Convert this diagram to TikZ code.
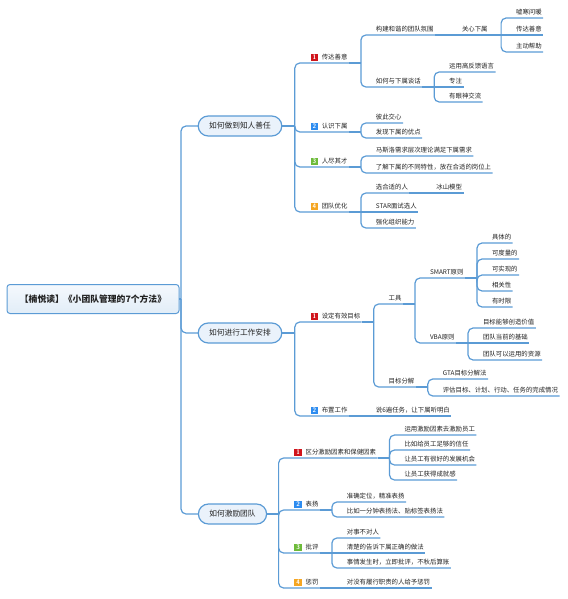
\documentclass[tikz,border=0pt]{standalone}
\usepackage{fontspec}
\newfontfamily\cjk{Noto Sans CJK SC}
\definecolor{ln}{HTML}{5B9BD5}
\definecolor{bred}{HTML}{D0141B}
\definecolor{bblue}{HTML}{2D8CF0}
\definecolor{bgreen}{HTML}{6DBB3A}
\definecolor{borange}{HTML}{F5A623}
\definecolor{nfill}{HTML}{EAF2FB}
\definecolor{txc}{HTML}{222222}
\begin{document}
\begin{tikzpicture}[x=1pt,y=-1pt,
  conn/.style={draw=ln, line width=1.2pt, rounded corners=5pt},
  txt/.style={font=\cjk\fontsize{6.4}{7}\selectfont, text=txc, inner xsep=1.5pt, inner ysep=0pt, text height=5.6pt, text depth=3.3pt, anchor=south west, outer sep=0pt},
  ctxt/.style={txt, xshift=13.5pt},
  btxt/.style={txt, xshift=25.5pt},
  topic/.style={font=\cjk\fontsize{7.7}{9}\selectfont, text=txc, draw=ln, line width=1.2pt, fill=nfill, rounded corners=10pt, minimum height=20pt, inner xsep=11pt, inner ysep=0pt, outer sep=0pt},
  rootbox/.style={font=\cjk\bfseries\fontsize{8.8}{10}\selectfont, text=txc, draw=ln, line width=1pt, top color=white!50!nfill, bottom color=ln!18, rounded corners=3pt, minimum width=172pt, minimum height=29pt, inner sep=0pt, outer sep=0pt},
  badge/.style={minimum size=7.5pt, inner sep=0pt, text=white, font=\sffamily\bfseries\fontsize{6.5}{6.5}\selectfont, outer sep=0pt, xshift=19.5pt}
]
\useasboundingbox (0,0) rectangle (567,599);

% root
\node[rootbox] (root) at (93,299) {【楠悦读】《小团队管理的7个方法》};
\coordinate (s0) at ([xshift=2pt]root.east);

% ---------------- Branch A
\node[topic] (tA) at (240,126) {如何做到知人善任};
\coordinate (sA) at ([xshift=13pt]tA.east);
\node[badge,fill=bred] (bA1) at (sA |- 0,57.5) {1};
\node[btxt] (A1) at (sA |- 0,63) {传达善意};
\node[badge,fill=bblue] (bA2) at (sA |- 0,126.5) {2};
\node[btxt] (A2) at (sA |- 0,132) {认识下属};
\node[badge,fill=bgreen] (bA3) at (sA |- 0,161.5) {3};
\node[btxt] (A3) at (sA |- 0,167) {人尽其才};
\node[badge,fill=borange] (bA4) at (sA |- 0,206.5) {4};
\node[btxt] (A4) at (sA |- 0,212) {团队优化};

\coordinate (sA1) at ([xshift=12pt]A1.south east);
\node[ctxt] (A11) at (sA1 |- 0,35) {构建和谐的团队氛围};
\node[ctxt] (A12) at (sA1 |- 0,87) {如何与下属谈话};
\coordinate (sA11) at ([xshift=12pt]A11.south east);
\node[ctxt] (A111) at (sA11 |- 0,35) {关心下属};
\coordinate (sA111) at ([xshift=12pt]A111.south east);
\node[ctxt] (A1111) at (sA111 |- 0,18) {嘘寒问暖};
\node[ctxt] (A1112) at (sA111 |- 0,35) {传达善意};
\node[ctxt] (A1113) at (sA111 |- 0,52) {主动帮助};
\coordinate (sA12) at ([xshift=12pt]A12.south east);
\node[ctxt] (A121) at (sA12 |- 0,72) {运用高反馈语言};
\node[ctxt] (A122) at (sA12 |- 0,87) {专注};
\node[ctxt] (A123) at (sA12 |- 0,102) {有眼神交流};

\coordinate (sA2) at ([xshift=12pt]A2.south east);
\node[ctxt] (A21) at (sA2 |- 0,123) {彼此交心};
\node[ctxt] (A22) at (sA2 |- 0,138) {发现下属的优点};

\coordinate (sA3) at ([xshift=12pt]A3.south east);
\node[ctxt] (A31) at (sA3 |- 0,156) {马斯洛需求层次理论满足下属需求};
\node[ctxt] (A32) at (sA3 |- 0,173) {了解下属的不同特性，放在合适的岗位上};

\coordinate (sA4) at ([xshift=12pt]A4.south east);
\node[ctxt] (A41) at (sA4 |- 0,193) {选合适的人};
\node[ctxt] (A42) at (sA4 |- 0,212) {STAR面试选人};
\node[ctxt] (A43) at (sA4 |- 0,228) {强化组织能力};
\coordinate (sA41) at ([xshift=12pt]A41.south east);
\node[ctxt] (A411) at (sA41 |- 0,193) {冰山模型};

% ---------------- Branch B
\node[topic] (tB) at (240,333) {如何进行工作安排};
\coordinate (sB) at ([xshift=13pt]tB.east);
\node[badge,fill=bred] (bB1) at (sB |- 0,316.5) {1};
\node[btxt] (B1) at (sB |- 0,322) {设定有效目标};
\node[badge,fill=bblue] (bB2) at (sB |- 0,410.5) {2};
\node[btxt] (B2) at (sB |- 0,416) {布置工作};

\coordinate (sB1) at ([xshift=12pt]B1.south east);
\node[ctxt] (B11) at (sB1 |- 0,304) {工具};
\node[ctxt] (B12) at (sB1 |- 0,387) {目标分解};
\coordinate (sB11) at ([xshift=12pt]B11.south east);
\node[ctxt] (B111) at (sB11 |- 0,278) {SMART原则};
\node[ctxt] (B112) at (sB11 |- 0,343) {VBA原则};
\coordinate (sB111) at ([xshift=12pt]B111.south east);
\node[ctxt] (B1111) at (sB111 |- 0,243) {具体的};
\node[ctxt] (B1112) at (sB111 |- 0,259) {可度量的};
\node[ctxt] (B1113) at (sB111 |- 0,275) {可实现的};
\node[ctxt] (B1114) at (sB111 |- 0,291) {相关性};
\node[ctxt] (B1115) at (sB111 |- 0,307) {有时限};
\coordinate (sB112) at ([xshift=12pt]B112.south east);
\node[ctxt] (B1121) at (sB112 |- 0,328) {目标能够创造价值};
\node[ctxt] (B1122) at (sB112 |- 0,343) {团队当前的基础};
\node[ctxt] (B1123) at (sB112 |- 0,360) {团队可以运用的资源};
\coordinate (sB12) at ([xshift=12pt]B12.south east);
\node[ctxt] (B121) at (sB12 |- 0,379) {GTA目标分解法};
\node[ctxt] (B122) at (sB12 |- 0,396) {评估目标、计划、行动、任务的完成情况};
\coordinate (sB2) at ([xshift=12pt]B2.south east);
\node[ctxt] (B21) at (sB2 |- 0,416) {说6遍任务，让下属听明白};

% ---------------- Branch C
\node[topic] (tC) at (232.5,514) {如何激励团队};
\coordinate (sC) at ([xshift=12pt]tC.east);
\node[badge,fill=bred] (bC1) at (sC |- 0,452.5) {1};
\node[btxt] (C1) at (sC |- 0,458) {区分激励因素和保健因素};
\node[badge,fill=bblue] (bC2) at (sC |- 0,504.5) {2};
\node[btxt] (C2) at (sC |- 0,510) {表扬};
\node[badge,fill=bgreen] (bC3) at (sC |- 0,547.5) {3};
\node[btxt] (C3) at (sC |- 0,553) {批评};
\node[badge,fill=borange] (bC4) at (sC |- 0,582.5) {4};
\node[btxt] (C4) at (sC |- 0,588) {惩罚};

\coordinate (sC1) at ([xshift=12pt]C1.south east);
\node[ctxt] (C11) at (sC1 |- 0,435) {运用激励因素去激励员工};
\node[ctxt] (C12) at (sC1 |- 0,450) {比如给员工足够的信任};
\node[ctxt] (C13) at (sC1 |- 0,465) {让员工有很好的发展机会};
\node[ctxt] (C14) at (sC1 |- 0,480) {让员工获得成就感};
\coordinate (sC2) at ([xshift=12pt]C2.south east);
\node[ctxt] (C21) at (sC2 |- 0,502) {准确定位，精准表扬};
\node[ctxt] (C22) at (sC2 |- 0,517) {比如一分钟表扬法、贴标签表扬法};
\coordinate (sC3) at ([xshift=12pt]C3.south east);
\node[ctxt] (C31) at (sC3 |- 0,538) {对事不对人};
\node[ctxt] (C32) at (sC3 |- 0,553) {清楚的告诉下属正确的做法};
\node[ctxt] (C33) at (sC3 |- 0,568) {事情发生时，立即批评，不秋后算账};
\coordinate (sC4) at ([xshift=12pt]C4.south east);
\node[ctxt] (C41) at (sC4 |- 0,588) {对没有履行职责的人给予惩罚};

% ---------------- connectors
\draw[conn] (root.east) -- (s0);
\foreach \t in {tA,tB,tC} \draw[conn] (s0) |- (\t.west);

\draw[conn] (tA.east) -- (sA);
\foreach \c in {A1,A2,A3,A4} \draw[conn] (sA) |- (\c.south east);
\draw[conn] (A1.south east) -- (sA1);
\foreach \c in {A11,A12} \draw[conn] (sA1) |- (\c.south east);
\draw[conn] (A11.south east) -- (A111.south east);
\draw[conn] (A111.south east) -- (sA111);
\foreach \c in {A1111,A1113} \draw[conn] (sA111) |- (\c.south east);
\draw[conn] (sA111) -- (A1112.south east);
\draw[conn] (A12.south east) -- (sA12);
\foreach \c in {A121,A123} \draw[conn] (sA12) |- (\c.south east);
\draw[conn] (sA12) -- (A122.south east);
\draw[conn] (A2.south east) -- (sA2);
\foreach \c in {A21,A22} \draw[conn] (sA2) |- (\c.south east);
\draw[conn] (A3.south east) -- (sA3);
\foreach \c in {A31,A32} \draw[conn] (sA3) |- (\c.south east);
\draw[conn] (A4.south east) -- (sA4);
\foreach \c in {A41,A43} \draw[conn] (sA4) |- (\c.south east);
\draw[conn] (sA4) -- (A42.south east);
\draw[conn] (A41.south east) -- (A411.south east);

\draw[conn] (tB.east) -- (sB);
\foreach \c in {B1,B2} \draw[conn] (sB) |- (\c.south east);
\draw[conn] (B1.south east) -- (sB1);
\foreach \c in {B11,B12} \draw[conn] (sB1) |- (\c.south east);
\draw[conn] (B11.south east) -- (sB11);
\foreach \c in {B111,B112} \draw[conn] (sB11) |- (\c.south east);
\draw[conn] (B111.south east) -- (sB111);
\foreach \c in {B1111,B1112,B1113,B1114,B1115} \draw[conn] (sB111) |- (\c.south east);
\draw[conn] (B112.south east) -- (sB112);
\foreach \c in {B1121,B1123} \draw[conn] (sB112) |- (\c.south east);
\draw[conn] (sB112) -- (B1122.south east);
\draw[conn] (B12.south east) -- (sB12);
\foreach \c in {B121,B122} \draw[conn] (sB12) |- (\c.south east);
\draw[conn] (B2.south east) -- (B21.south east);

\draw[conn] (tC.east) -- (sC);
\foreach \c in {C1,C2,C3,C4} \draw[conn] (sC) |- (\c.south east);
\draw[conn] (C1.south east) -- (sC1);
\foreach \c in {C11,C12,C13,C14} \draw[conn] (sC1) |- (\c.south east);
\draw[conn] (C2.south east) -- (sC2);
\foreach \c in {C21,C22} \draw[conn] (sC2) |- (\c.south east);
\draw[conn] (C3.south east) -- (sC3);
\foreach \c in {C31,C33} \draw[conn] (sC3) |- (\c.south east);
\draw[conn] (sC3) -- (C32.south east);
\draw[conn] (C4.south east) -- (C41.south east);
\end{tikzpicture}
\end{document}
